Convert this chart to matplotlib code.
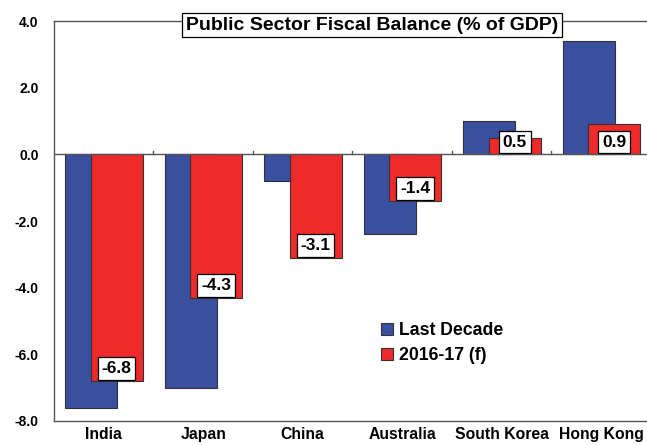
import matplotlib.pyplot as plt
import numpy as np

plt.rcParams['font.family'] = ['Liberation Sans', 'DejaVu Sans']
plt.rcParams['font.weight'] = 'bold'

countries = ["India", "Japan", "China", "Australia", "South Korea", "Hong Kong"]
last_decade = [-7.6, -7.0, -0.8, -2.4, 1.0, 3.4]
forecast = [-6.8, -4.3, -3.1, -1.4, 0.5, 0.9]
series_names = ["Last Decade", "2016-17 (f)"]

blue = "#3b4fa0"
red = "#ee2a2a"

fig = plt.figure(figsize=(6.47, 4.45), dpi=100)
ax = fig.add_axes([54 / 647, 24 / 445, 593 / 647, 400 / 445])

x = np.arange(len(countries))
w = 0.52
ax.bar(x - 0.125, last_decade, w, color=blue, edgecolor="#333333", linewidth=0.8,
       label=series_names[0], zorder=2)
ax.bar(x + 0.13, forecast, w, color=red, edgecolor="#333333", linewidth=0.8,
       label=series_names[1], zorder=3)

# value labels in boxes at the end of the red bars
for xi, v in zip(x, forecast):
    ax.text(xi + 0.13, min(v, 0) + 0.37, "%.1f" % v, ha="center", va="center",
            fontsize=12.5, fontweight="bold", zorder=5,
            bbox=dict(boxstyle="square,pad=0.22", fc="white", ec="black", lw=0.9))

ax.set_xlim(-0.5, 5.46)
ax.set_ylim(-8, 4)
ax.set_yticks(np.arange(-8, 5, 2))
ax.set_yticklabels(["%.1f" % t for t in np.arange(-8, 5, 2)], fontsize=10, fontweight="bold")
ax.tick_params(axis="y", length=0, pad=11)
ax.set_xticks(x)
ax.set_xticklabels(countries, fontsize=11.3, fontweight="bold")
ax.tick_params(axis="x", length=0, pad=4)

# zero line with small ticks at category boundaries
ax.axhline(0, color="#555555", lw=1, zorder=4)
for b in np.arange(0.5, 5.5, 1):
    ax.plot([b, b], [0, 0.1], color="#555555", lw=1, zorder=4)

for s in ["left", "top", "bottom"]:
    ax.spines[s].set_color("#555555")
    ax.spines[s].set_linewidth(1)
ax.spines["right"].set_visible(False)

ax.text(0.536, 0.99, "Public Sector Fiscal Balance (% of GDP)", transform=ax.transAxes,
        ha="center", va="center", fontsize=14, fontweight="bold", zorder=6,
        bbox=dict(boxstyle="square,pad=0.2", fc="white", ec="black", lw=0.9))

leg = ax.legend(loc="upper left", bbox_to_anchor=(0.54, 0.265), frameon=False,
                fontsize=12.7, handlelength=0.65, handleheight=0.65, handletextpad=0.35,
                labelspacing=0.45, borderaxespad=0)
for t in leg.get_texts():
    t.set_fontweight("bold")

fig.savefig("out.png", dpi=100)
